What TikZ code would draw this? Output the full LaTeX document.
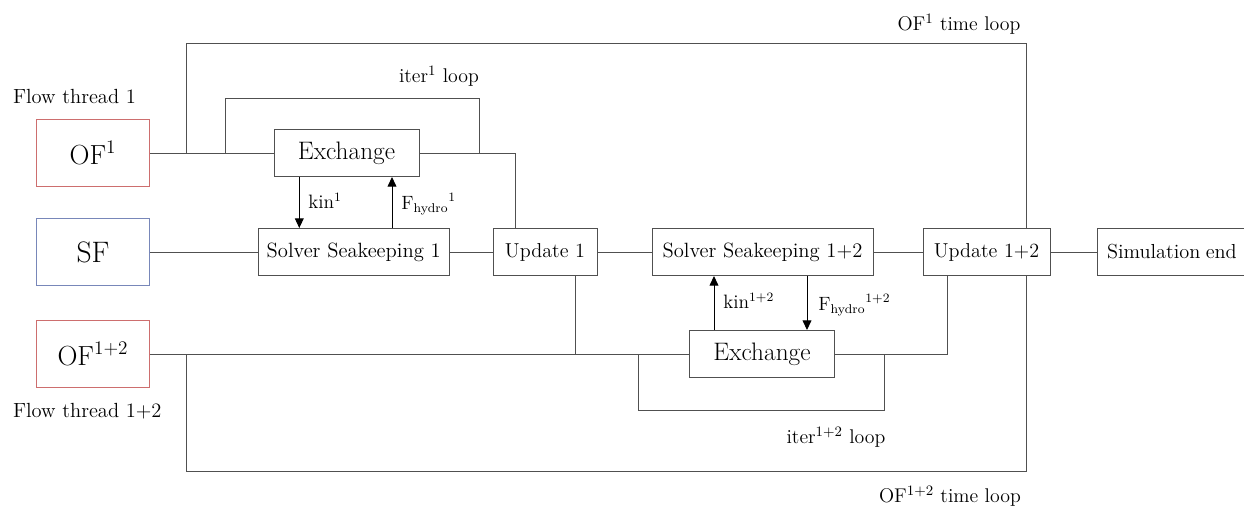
\documentclass[tikz,border=0pt]{standalone}
\usepackage{graphicx}
\usetikzlibrary{arrows.meta,calc}

\newcommand{\fsz}[1]{\fontsize{#1}{1.2\dimexpr#1pt\relax}\selectfont}

\definecolor{linegray}{RGB}{80,80,80}
\definecolor{ofred}{RGB}{205,110,110}
\definecolor{sfblue}{RGB}{120,135,185}

\tikzset{
  wire/.style={draw=linegray, line width=0.6pt},
  arr/.style={draw=black, line width=0.6pt, -{Triangle[length=6pt,width=5.5pt]}},
  blk/.style={draw=linegray, line width=0.6pt, inner sep=0pt, minimum height=29.4pt},
  srcbox/.style={draw=#1, line width=0.6pt, inner sep=0pt, minimum width=70.6pt, minimum height=41.9pt},
  lbl/.style={inner sep=0pt},
}

\begin{document}
\begin{tikzpicture}[x=0.625pt, y=-0.625pt]
\useasboundingbox (0,0) rectangle (1244,506);
\clip (0,0) rectangle (1244,506);

% sources
\node[srcbox=ofred]  (of1)  at (93,153) {\fsz{18.3}$\mathrm{OF}^{1}$};
\node[srcbox=sfblue] (sf)   at (93,252) {\fsz{18.5}SF};
\node[srcbox=ofred]  (of12) at (93,354) {\fsz{18.3}$\mathrm{OF}^{1+2}$};

\node[lbl, anchor=west] (ft1)  at (12.7,96)  {\fsz{12.8}Flow thread 1};
\node[lbl, anchor=west] (ft12) at (12.7,411) {\fsz{12.8}Flow thread 1+2};

% processing blocks
\node[blk, minimum width=90.6pt]  (ex1) at (346.5,153) {\fsz{15.8}Exchange};
\node[blk, minimum width=119.4pt] (s1)  at (353.7,252) {\fsz{12.9}Solver Seakeeping 1};
\node[blk, minimum width=65pt]    (u1)  at (545,252)   {\fsz{12.6}Update 1};
\node[blk, minimum width=138.1pt] (s12) at (762.5,252) {\fsz{12.9}Solver Seakeeping 1+2};
\node[blk, minimum width=79.4pt]  (u12) at (986.5,252) {\fsz{12.6}Update 1+2};
\node[blk, minimum width=90.6pt]  (ex2) at (762,354)   {\fsz{15.8}Exchange};
\node[blk, inner xsep=5.9pt, text width=200pt, align=left] (end) at (1267,252) {\fsz{12.7}Simulation end};

% junction points
\coordinate (t1)  at (186,153);
\coordinate (t2)  at (186,354);
\coordinate (tr)  at (1026,0);
\coordinate (i1a) at (225.4,153);
\coordinate (i1b) at (479,153);
\coordinate (i2a) at (638,354);
\coordinate (i2b) at (884,354);
\coordinate (j1)  at (515.6,0);
\coordinate (j2)  at (947,0);
\coordinate (ub)  at (575,0);
\coordinate (k1)  at (299.3,0);
\coordinate (f1)  at (392,0);
\coordinate (k2)  at (714,0);
\coordinate (f2)  at (807,0);

% main row
\draw[wire] (sf) -- (s1);
\draw[wire] (s1) -- (u1);
\draw[wire] (u1) -- (s12);
\draw[wire] (s12) -- (u12);
\draw[wire] (u12) -- (end);

% flow thread 1
\draw[wire] (of1.east) -- (ex1.west);
\draw[wire] (t1) -- ++(0,-110) -| (u12.north -| tr);
\draw[wire] (i1a) -- ++(0,-55) -| (i1b);
\draw[wire] (ex1.east) -| (u1.north -| j1);
\draw[arr] (ex1.south -| k1) -- (s1.north -| k1);
\draw[arr] (s1.north -| f1) -- (ex1.south -| f1);

% flow thread 1+2
\draw[wire] (of12.east) -- (ex2.west);
\draw[wire] (u1.south -| ub) -- (ub |- of12.east);
\draw[wire] (t2) -- ++(0,117) -| (u12.south -| tr);
\draw[wire] (i2a) -- ++(0,56) -| (i2b);
\draw[wire] (ex2.east) -| (u12.south -| j2);
\draw[arr] (ex2.north -| k2) -- (s12.south -| k2);
\draw[arr] (s12.south -| f2) -- (ex2.north -| f2);

% labels
\node[lbl] (lt1) at (959,24) {\fsz{12.4}OF$^{1}$ time loop};
\node[lbl] (li1) at (439,76) {\fsz{12.4}iter$^{1}$ loop};
\node[lbl, anchor=west] (lk1) at (308,201) {\fsz{12.1}kin$^{1}$};
\node[lbl, anchor=west] (lf1) at (401,204) {\fsz{12.1}${\mathrm{F}_{\mathrm{hydro}}}^{1}$};
\node[lbl, anchor=west] (lk2) at (723,301) {\fsz{12.1}kin$^{1+2}$};
\node[lbl, anchor=west] (lf2) at (818,305) {\fsz{12.1}${\mathrm{F}_{\mathrm{hydro}}}^{1+2}$};
\node[lbl] (li2) at (836,437) {\fsz{12.4}iter$^{1+2}$ loop};
\node[lbl] (lt2) at (950,496) {\fsz{12.4}OF$^{1+2}$ time loop};
\end{tikzpicture}
\end{document}
